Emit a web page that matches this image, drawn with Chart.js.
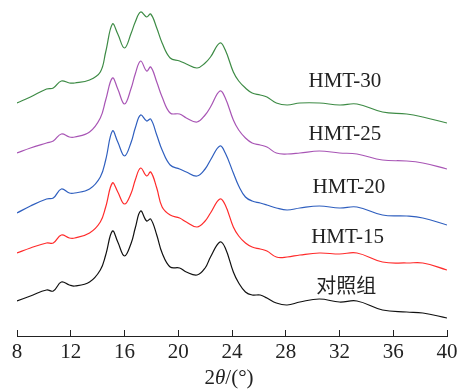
<!DOCTYPE html>
<html>
<head>
<meta charset="utf-8">
<script src="https://cdn.jsdelivr.net/npm/chart.js@4"></script>
<style>
  body { margin: 0; background: #fff; }
  #wrap { width: 472px; height: 389px; position: relative; }
</style>
</head>
<body>
<div id="wrap"><canvas id="xrdChart"></canvas></div>
<script>
  // 2theta positions (deg)
  const twoTheta = [8, 9, 10.2, 10.7, 11.3, 11.9, 12.3, 13.4, 14.2, 14.6, 15.1, 15.5, 16.0, 16.5, 16.8, 17.2, 17.65, 17.95, 18.4, 18.8, 19.4, 20.1, 20.6, 21.4, 22.0, 22.4, 23.1, 23.5, 24.1, 24.5, 25.0, 25.5, 26.1, 26.6, 27.3, 28.1, 29.05, 30.5, 32.0, 33.3, 35.2, 37.0, 38.2, 40];

  // intensity (a.u., curves already offset)
  const control = [35, 40, 46, 45, 54, 51, 50, 54, 66, 81, 105, 94, 80, 93, 108, 125, 115, 117, 101, 83, 69, 68, 64, 61, 68, 79, 94, 88, 64, 53, 44, 41, 41, 38, 33, 31, 34, 37, 34, 35, 26, 24, 23, 18];
  const hmt15 = [83, 88, 93, 93, 101, 98, 98, 103, 114, 129, 153, 144, 132, 143, 156, 168, 160, 164, 148, 129, 121, 118, 114, 109, 115, 123, 137, 131, 109, 100, 93, 89, 87, 85, 79, 79, 81, 83, 82, 83, 74, 73, 73, 66];
  const hmt20 = [123, 130, 137, 138, 147, 143, 143, 147, 159, 176, 205, 194, 180, 194, 208, 221, 215, 217, 201, 186, 171, 167, 164, 160, 167, 176, 190, 183, 163, 150, 139, 135, 133, 131, 128, 126, 128, 130, 128, 129, 121, 120, 118, 111];
  const hmt25 = [183, 188, 193, 195, 202, 199, 199, 204, 218, 236, 258, 247, 232, 248, 262, 275, 265, 269, 254, 239, 223, 222, 218, 214, 221, 229, 245, 238, 216, 206, 198, 193, 191, 189, 183, 182, 183, 185, 183, 182, 176, 175, 173, 167];
  const hmt30 = [233, 239, 247, 248, 255, 253, 253, 256, 264, 284, 312, 302, 288, 303, 314, 324, 319, 322, 308, 293, 278, 275, 272, 268, 273, 279, 293, 286, 264, 255, 248, 243, 241, 239, 233, 231, 233, 233, 231, 232, 224, 222, 219, 213];

  const xTicks = [8, 12, 16, 20, 24, 28, 32, 36, 40];

  // curve labels
  const labelNames = ['HMT-30', 'HMT-25', 'HMT-20', 'HMT-15', '对照组'];
  const labelX = [32.4, 32.4, 32.7, 32.6, 32.5];
  const labelY = [255, 202, 149, 99, 51];

  const serif = '"Liberation Serif", "Times New Roman", serif';

  const toPts = ys => twoTheta.map((x, i) => ({ x: x, y: ys[i] }));

  function line(data, color) {
    return {
      data: toPts(data),
      borderColor: color,
      borderWidth: 1.2,
      pointRadius: 0,
      fill: false,
      tension: 0.4
    };
  }

  const textPlugin = {
    id: 'texts',
    afterDraw(chart) {
      const c = chart.ctx;
      const xs = chart.scales.x, ys = chart.scales.y;
      c.save();
      c.fillStyle = '#222';
      c.textAlign = 'center';
      c.textBaseline = 'middle';
      labelNames.forEach((t, i) => {
        c.font = /[\u4e00-\u9fff]/.test(t) ? '20px "Noto Sans CJK SC"' : '21px ' + serif;
        c.fillText(t, xs.getPixelForValue(labelX[i]), ys.getPixelForValue(labelY[i]));
      });
      // axis title 2θ/(°)
      const parts = [['2', 'normal'], ['θ', 'italic'], ['/(°)', 'normal']];
      let w = 0;
      parts.forEach(p => { c.font = p[1] + ' 21px ' + serif; w += c.measureText(p[0]).width; });
      let x = 229 - w / 2;
      c.textAlign = 'left';
      c.textBaseline = 'alphabetic';
      parts.forEach(p => {
        c.font = p[1] + ' 21px ' + serif;
        c.fillText(p[0], x, 384);
        x += c.measureText(p[0]).width;
      });
      c.restore();
    }
  };

  new Chart(document.getElementById('xrdChart'), {
    type: 'line',
    data: {
      datasets: [
        line(control, '#111111'),
        line(hmt15, '#ff2b2b'),
        line(hmt20, '#2f5fbf'),
        line(hmt25, '#a855b5'),
        line(hmt30, '#3d8b45')
      ]
    },
    options: {
      responsive: true,
      maintainAspectRatio: false,
      animation: false,
      layout: { padding: { left: 17, right: 25, top: 0, bottom: 0 } },
      plugins: { legend: { display: false }, tooltip: { enabled: false } },
      scales: {
        x: {
          type: 'linear',
          min: 8,
          max: 40,
          afterFit: s => { s.height = 53; },
          afterBuildTicks: s => { s.ticks = xTicks.map(v => ({ value: v })); },
          grid: { drawOnChartArea: false, drawTicks: true, tickLength: -6, color: '#222' },
          border: { display: true, color: '#222', width: 1 },
          ticks: { padding: 10, color: '#222', maxRotation: 0, font: { family: serif, size: 21 } }
        },
        y: { display: false, min: 0, max: 336 }
      }
    },
    plugins: [textPlugin]
  });
</script>
</body>
</html>
